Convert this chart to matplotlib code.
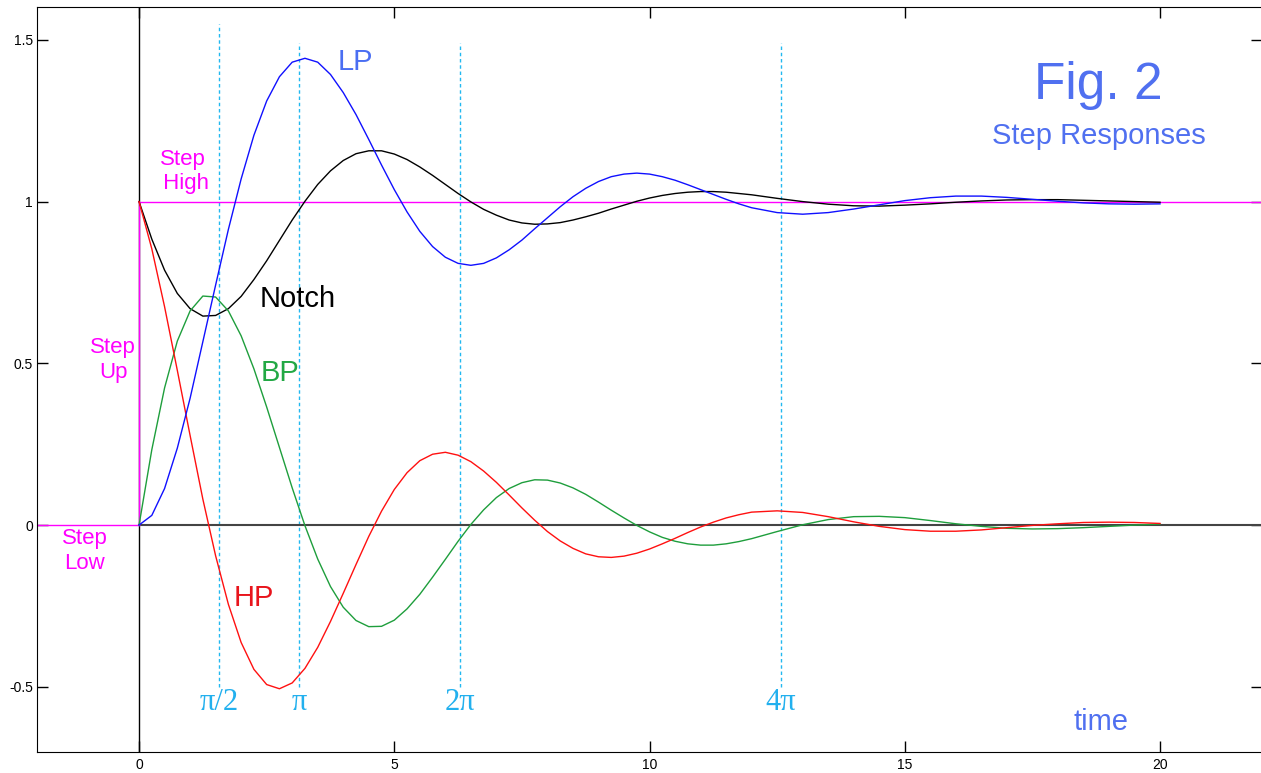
import matplotlib
matplotlib.use('Agg')
import matplotlib.pyplot as plt
import numpy as np
from matplotlib.ticker import FormatStrFormatter

plt.rcParams['font.family'] = ['Liberation Sans', 'DejaVu Sans']
plt.rcParams['axes.unicode_minus'] = False

# time samples
t = [0, 0.25, 0.5, 0.75, 1, 1.25, 1.5, 1.75, 2, 2.25, 2.5, 2.75, 3, 3.25, 3.5,
     3.75, 4, 4.25, 4.5, 4.75, 5, 5.25, 5.5, 5.75, 6,
     6.25, 6.5, 6.75, 7, 7.25, 7.5, 7.75, 8, 8.25, 8.5, 8.75, 9, 9.25, 9.5,
     9.75, 10, 10.25, 10.5, 10.75, 11, 11.25, 11.5, 11.75, 12,
     12.5, 13, 13.5, 14, 14.5, 15, 15.5, 16, 16.5, 17, 17.5, 18, 18.5, 19,
     19.5, 20]

# step responses
lp = [0, 0.030, 0.113, 0.238, 0.392, 0.567, 0.742, 0.914, 1.070, 1.205, 1.311,
      1.386, 1.431, 1.443, 1.431, 1.393, 1.337, 1.269, 1.192, 1.113, 1.037,
      0.968, 0.908, 0.861, 0.828,
      0.809, 0.803, 0.809, 0.826, 0.851, 0.881, 0.916, 0.950, 0.984, 1.015,
      1.041, 1.062, 1.077, 1.085, 1.088, 1.085, 1.077, 1.066, 1.052, 1.037,
      1.022, 1.007, 0.993, 0.981,
      0.966, 0.961, 0.966, 0.977, 0.990, 1.003, 1.012, 1.017, 1.017, 1.013,
      1.007, 1.001, 0.996, 0.993, 0.992, 0.993]
hp = [1, 0.854, 0.675, 0.478, 0.277, 0.080, -0.095, -0.245, -0.363, -0.446,
      -0.493, -0.506, -0.488, -0.443, -0.378, -0.298, -0.211, -0.122, -0.035,
      0.043, 0.110, 0.162, 0.199, 0.219, 0.225,
      0.216, 0.196, 0.167, 0.132, 0.093, 0.053, 0.015, -0.020, -0.049, -0.072,
      -0.089, -0.098, -0.100, -0.096, -0.087, -0.074, -0.058, -0.041, -0.023,
      -0.006, 0.009, 0.022, 0.032, 0.040,
      0.044, 0.039, 0.026, 0.010, -0.004, -0.014, -0.019, -0.019, -0.015,
      -0.008, -0.001, 0.004, 0.008, 0.009, 0.008, 0.005]
bp = [0, 0.233, 0.424, 0.569, 0.662, 0.708, 0.705, 0.662, 0.585, 0.483, 0.365,
      0.240, 0.115, -0.002, -0.105, -0.190, -0.254, -0.295, -0.314, -0.313,
      -0.294, -0.259, -0.214, -0.161, -0.106,
      -0.050, 0.002, 0.047, 0.085, 0.113, 0.131, 0.140, 0.139, 0.130, 0.115,
      0.095, 0.071, 0.046, 0.022, -0.001, -0.021, -0.038, -0.050, -0.058,
      -0.062, -0.062, -0.058, -0.051, -0.042,
      -0.020, 0.001, 0.017, 0.026, 0.027, 0.023, 0.014, 0.004, -0.004, -0.010,
      -0.012, -0.011, -0.008, -0.004, 0.000, 0.003]
notch = [1, 0.884, 0.788, 0.716, 0.669, 0.646, 0.648, 0.669, 0.707, 0.759,
         0.817, 0.880, 0.943, 1.001, 1.053, 1.095, 1.127, 1.148, 1.157, 1.157,
         1.147, 1.130, 1.107, 1.081, 1.053,
         1.025, 0.999, 0.976, 0.958, 0.943, 0.934, 0.930, 0.931, 0.935, 0.943,
         0.953, 0.964, 0.977, 0.989, 1.001, 1.011, 1.019, 1.025, 1.029, 1.031,
         1.031, 1.029, 1.025, 1.021,
         1.010, 1.000, 0.992, 0.987, 0.986, 0.989, 0.993, 0.998, 1.002, 1.005,
         1.006, 1.006, 1.004, 1.002, 1.000, 0.998]

marks = [np.pi / 2, np.pi, 2 * np.pi, 4 * np.pi]
mark_labels = ['π/2', 'π', '2π', '4π']
mark_tops = [1.55, 1.49, 1.49, 1.49]

fig = plt.figure(figsize=(12.61, 7.73), dpi=100)
ax = fig.add_axes([0.0293, 0.0278, 0.9716, 0.9625])
ax.set_xlim(-2, 22)
ax.set_ylim(-0.7, 1.6)

for xm, top, lab in zip(marks, mark_tops, mark_labels):
    ax.plot([xm, xm], [-0.5, top], color='#22b8f0', lw=1, ls=(0, (2.5, 2)))
    ax.text(xm, -0.55, lab, color='#22b0ee', fontsize=22,
            family='Liberation Serif', ha='center', va='center')

# reference lines: the step input
ax.axvline(0, color='black', lw=1)
ax.plot([0, 22], [0, 0], color='#444444', lw=1.5)
ax.plot([-2, 0], [0, 0], color='#ff00ff', lw=1)
ax.plot([0, 0], [0, 1], color='#ff00ff', lw=1)
ax.plot([0, 22], [1, 1], color='#ff00ff', lw=1)

ax.plot(t, notch, color='black', lw=1)
ax.plot(t, bp, color='#1e9e3c', lw=1)
ax.plot(t, hp, color='#ff1010', lw=1)
ax.plot(t, lp, color='#1010ff', lw=1)

ax.text(4.23, 1.431, 'LP', color='#4a6ef2', fontsize=21, ha='center', va='center')
ax.text(2.37, 0.699, 'Notch', color='black', fontsize=21, ha='left', va='center')
ax.text(2.39, 0.47, 'BP', color='#22a844', fontsize=21, ha='left', va='center')
ax.text(1.86, -0.226, 'HP', color='#e8141c', fontsize=21, ha='left', va='center')

ax.text(0.86, 1.093, 'Step\n High', color='#ff00ff', fontsize=16, ha='center', va='center')
ax.text(-0.51, 0.51, 'Step\nUp', color='#ff00ff', fontsize=16, ha='center', va='center')
ax.text(-1.06, -0.08, 'Step\nLow', color='#ff00ff', fontsize=16, ha='center', va='center')

ax.text(18.79, 1.36, 'Fig. 2', color='#5070f0', fontsize=37, ha='center', va='center')
ax.text(18.8, 1.203, 'Step Responses', color='#5070f0', fontsize=21, ha='center', va='center')
ax.text(18.84, -0.609, 'time', color='#5070f0', fontsize=21, ha='center', va='center')

ax.set_xticks([0, 5, 10, 15, 20])
ax.set_yticks([-0.5, 0, 0.5, 1, 1.5])
ax.xaxis.set_major_formatter(FormatStrFormatter('%g'))
ax.yaxis.set_major_formatter(FormatStrFormatter('%g'))
ax.tick_params(direction='in', length=8, width=1, top=True, right=True,
               labelsize=10, colors='black')
ax.tick_params(axis='x', pad=5)
ax.tick_params(axis='y', pad=3)

fig.savefig('out.png', dpi=100)
